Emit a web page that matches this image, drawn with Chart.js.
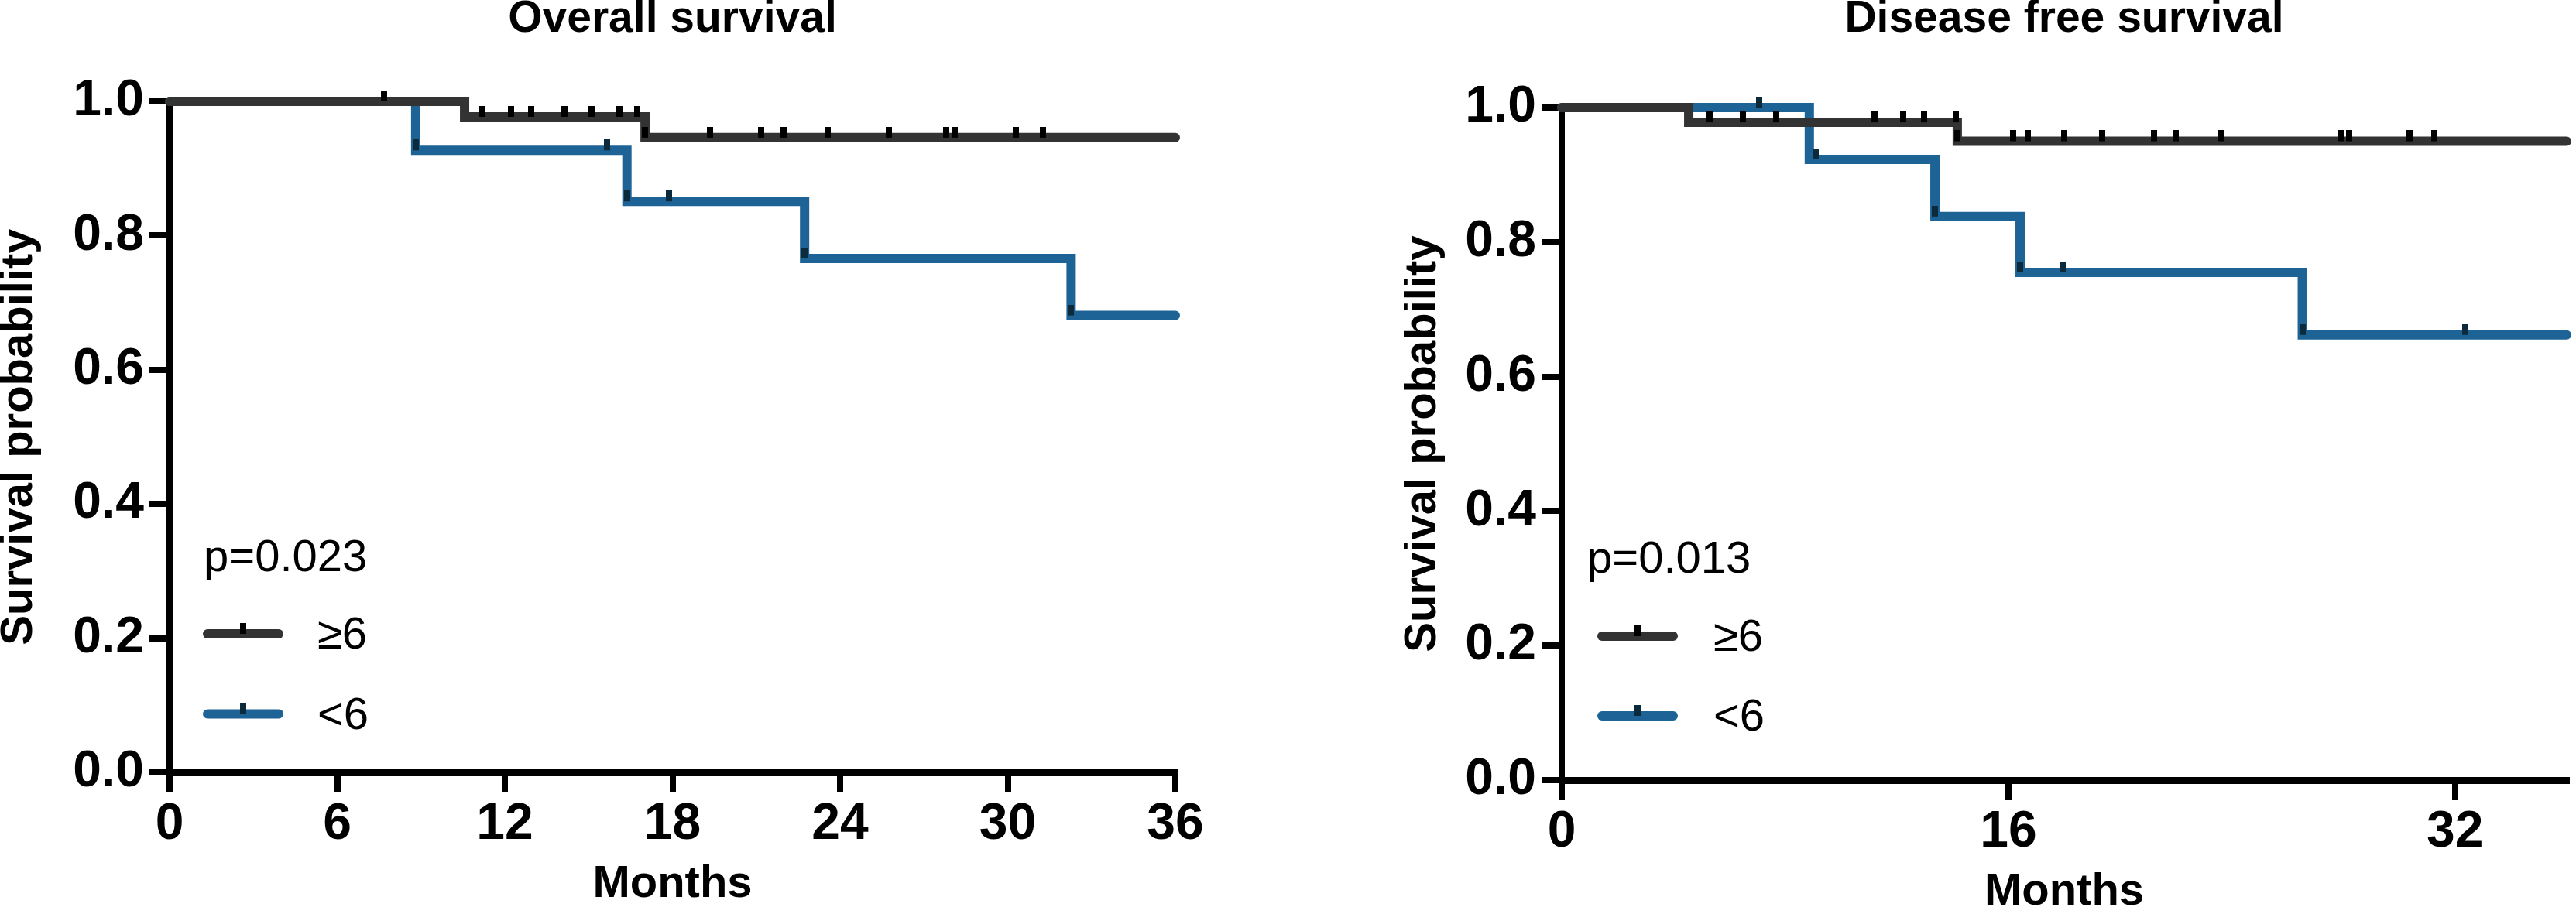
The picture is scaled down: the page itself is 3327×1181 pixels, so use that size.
<!DOCTYPE html>
<html>
<head>
<meta charset="utf-8">
<script src="https://cdn.jsdelivr.net/npm/chart.js@4.4.1/dist/chart.umd.min.js"></script>
<style>
  html, body { margin: 0; padding: 0; background: #fff; overflow: hidden; }
  body { width: 3327px; height: 1181px; position: relative; }
  .panel { position: absolute; top: 0; height: 1181px; }
</style>
</head>
<body>
<div class="panel" style="left:0;width:1600px"><canvas id="os"></canvas></div>
<div class="panel" style="left:1813px;width:1514px"><canvas id="dfs"></canvas></div>
<script>
"use strict"

// OVERALL SURVIVAL, >=6 GROUP (step times, survival, censor times)
const osHighTimes = [0, 10.56, 17.02, 36];
const osHighSurv = [1, 0.977, 0.946, 0.946];
const osHighCensored = [7.68, 11.21, 12.22, 12.93, 14.14, 15.10, 16.09, 16.74, 17.02,
    19.34, 21.17, 21.97, 23.57, 25.75, 27.8, 28.1, 30.29, 31.25];

// OVERALL SURVIVAL, <6 GROUP
const osLowTimes = [0, 8.81, 16.37, 22.73, 32.27, 36];
const osLowSurv = [1, 0.927, 0.851, 0.766, 0.681, 0.681];
const osLowCensored = [8.81, 15.67, 16.37, 17.87, 22.73, 32.27];

// DISEASE FREE SURVIVAL, >=6 GROUP
const dfsHighTimes = [0, 4.55, 14.17, 36];
const dfsHighSurv = [1, 0.978, 0.950, 0.950];
const dfsHighCensored = [5.29, 6.48, 7.69, 11.21, 12.24, 12.98, 14.11, 14.17, 16.18, 16.71,
    18.01, 19.37, 21.21, 22.0, 23.63, 27.9, 28.2, 30.38, 31.26];

// DISEASE FREE SURVIVAL, <6 GROUP
const dfsLowTimes = [0, 8.87, 13.37, 16.42, 26.53, 36];
const dfsLowSurv = [1, 0.923, 0.838, 0.755, 0.662, 0.662];
const dfsLowCensored = [7.07, 9.1, 13.37, 16.42, 17.95, 26.53, 32.36];

const groupLabels = ['≥6', '<6'];
const pValues = ['p=0.023', 'p=0.013'];
const chartTitles = ['Overall survival', 'Disease free survival'];
const xTitle = 'Months';
const yTitle = 'Survival probability';

const FONT = '"Liberation Sans", Arial, Helvetica, sans-serif';
const DARK = '#333333';
const BLUE = '#1d6396';
const DARK_TICK = '#000000';
const BLUE_TICK = '#0b2a3c';

Chart.defaults.font.family = FONT;
Chart.defaults.color = '#000';

// survival value of the curve at time t (for placing censor marks)
function survAt(times, surv, t) {
    let s = surv[0];
    for (let i = 0; i < times.length; i++) {
        if (times[i] <= t) s = surv[i];
    }
    return s;
}

function toPoints(times, surv) {
    return times.map((t, i) => ({ x: t, y: surv[i] }));
}

function censorPoints(times, surv, cens) {
    return cens.map(t => ({ x: t, y: survAt(times, surv, t) }));
}

// small vertical tick that sits on top of the line
function tickMark(color) {
    const c = document.createElement('canvas');
    c.width = 8;
    c.height = 28;
    const g = c.getContext('2d');
    g.fillStyle = color;
    g.fillRect(0, 0, 8, 14);
    return c;
}

// LEGEND + P VALUE DRAWN INSIDE THE PLOT
const kmLegend = {
    id: 'kmLegend',
    afterDraw(chart, args, opts) {
        const { ctx, chartArea } = chart;
        const left = chartArea.left, bottom = chartArea.bottom;
        ctx.save();
        ctx.fillStyle = '#000';
        ctx.font = '58px ' + FONT;
        ctx.textAlign = 'left';
        ctx.textBaseline = 'alphabetic';
        ctx.fillText(opts.pText, left + opts.px, bottom - opts.py);

        const items = [
            { color: DARK, tick: DARK_TICK, y: bottom - opts.ly1, label: groupLabels[0] },
            { color: BLUE, tick: BLUE_TICK, y: bottom - opts.ly2, label: groupLabels[1] }
        ];
        items.forEach(it => {
            const x0 = left + opts.lx + 6;
            const x1 = left + opts.lx + 104 - 6;
            ctx.strokeStyle = it.color;
            ctx.lineWidth = 12;
            ctx.lineCap = 'round';
            ctx.beginPath();
            ctx.moveTo(x0, it.y);
            ctx.lineTo(x1, it.y);
            ctx.stroke();
            ctx.fillStyle = it.tick;
            ctx.fillRect((x0 + x1) / 2 - 4, it.y - 14, 8, 14);
            ctx.fillStyle = '#000';
            ctx.fillText(it.label, left + opts.tx, it.y + 19);
        });
        ctx.restore();
    }
};

function makeChart(id, c) {
    const datasets = [
        {
            type: 'scatter', label: 'high censored', order: 0, clip: false,
            data: censorPoints(c.high.t, c.high.s, c.high.c),
            pointStyle: tickMark(DARK_TICK), pointRadius: 6, showLine: false
        },
        {
            type: 'scatter', label: 'low censored', order: 0, clip: false,
            data: censorPoints(c.low.t, c.low.s, c.low.c),
            pointStyle: tickMark(BLUE_TICK), pointRadius: 6, showLine: false
        },
        {
            label: groupLabels[0], order: 1, clip: false,
            data: toPoints(c.high.t, c.high.s),
            borderColor: DARK, borderWidth: 12, stepped: true, pointRadius: 0,
            borderCapStyle: 'round', borderJoinStyle: 'miter', fill: false
        },
        {
            label: groupLabels[1], order: 2, clip: false,
            data: toPoints(c.low.t, c.low.s),
            borderColor: BLUE, borderWidth: 12, stepped: true, pointRadius: 0,
            borderCapStyle: 'round', borderJoinStyle: 'miter', fill: false
        }
    ];

    return new Chart(document.getElementById(id), {
        type: 'line',
        data: { datasets: datasets },
        plugins: [kmLegend],
        options: {
            responsive: true,
            maintainAspectRatio: false,
            animation: false,
            devicePixelRatio: 1,
            events: [],
            layout: { padding: { left: 0, right: c.padRight, top: 0, bottom: 0 } },
            plugins: {
                legend: { display: false },
                tooltip: { enabled: false },
                title: {
                    display: true,
                    text: c.title,
                    fullSize: false,
                    color: '#000',
                    font: { size: 57, weight: 'bold', lineHeight: 0.9 },
                    padding: { top: 0, bottom: c.top - 51.3 }
                },
                kmLegend: c.legend
            },
            scales: {
                x: {
                    type: 'linear',
                    min: 0,
                    max: 36,
                    afterFit: (s) => { s.height = 1181 - c.bottom; },
                    ticks: {
                        stepSize: c.xStep,
                        includeBounds: false,
                        padding: 9,
                        color: '#000',
                        font: { size: 66, weight: 'bold', lineHeight: 1 },
                        maxRotation: 0
                    },
                    grid: { display: true, drawOnChartArea: false, drawTicks: true, tickLength: 26, lineWidth: 8, color: '#000' },
                    border: { display: true, width: 9, color: '#000' },
                    title: {
                        display: true, text: xTitle, color: '#000',
                        font: { size: 58, weight: 'bold', lineHeight: 1 },
                        padding: { top: 0, bottom: 1007 - c.bottom }
                    }
                },
                y: {
                    min: 0,
                    max: 1,
                    afterFit: (s) => { s.width = c.axisW; },
                    ticks: {
                        stepSize: 0.2,
                        padding: 7,
                        color: '#000',
                        font: { size: 66, weight: 'bold', lineHeight: 1 },
                        callback: (v) => v.toFixed(1)
                    },
                    grid: { display: true, drawOnChartArea: false, drawTicks: true, tickLength: 26, lineWidth: 8, color: '#000' },
                    border: { display: true, width: 8, color: '#000' },
                    title: {
                        display: true, text: yTitle, color: '#000',
                        font: { size: 58, weight: 'bold', lineHeight: 0.85 },
                        padding: { top: 0, bottom: 0 }
                    }
                }
            }
        }
    });
}

makeChart('os', {
    title: chartTitles[0],
    high: { t: osHighTimes, s: osHighSurv, c: osHighCensored },
    low: { t: osLowTimes, s: osLowSurv, c: osLowCensored },
    xStep: 6, axisW: 219, top: 131, bottom: 998, padRight: 82,
    legend: { pText: pValues[0], px: 44, py: 260, lx: 43, ly1: 179, ly2: 75.5, tx: 191 }
});

makeChart('dfs', {
    title: chartTitles[1],
    high: { t: dfsHighTimes, s: dfsHighSurv, c: dfsHighCensored },
    low: { t: dfsLowTimes, s: dfsLowSurv, c: dfsLowCensored },
    xStep: 16, axisW: 204, top: 139, bottom: 1008, padRight: 12,
    legend: { pText: pValues[1], px: 33, py: 268, lx: 46, ly1: 186, ly2: 83, tx: 196 }
});
</script>
</body>
</html>
